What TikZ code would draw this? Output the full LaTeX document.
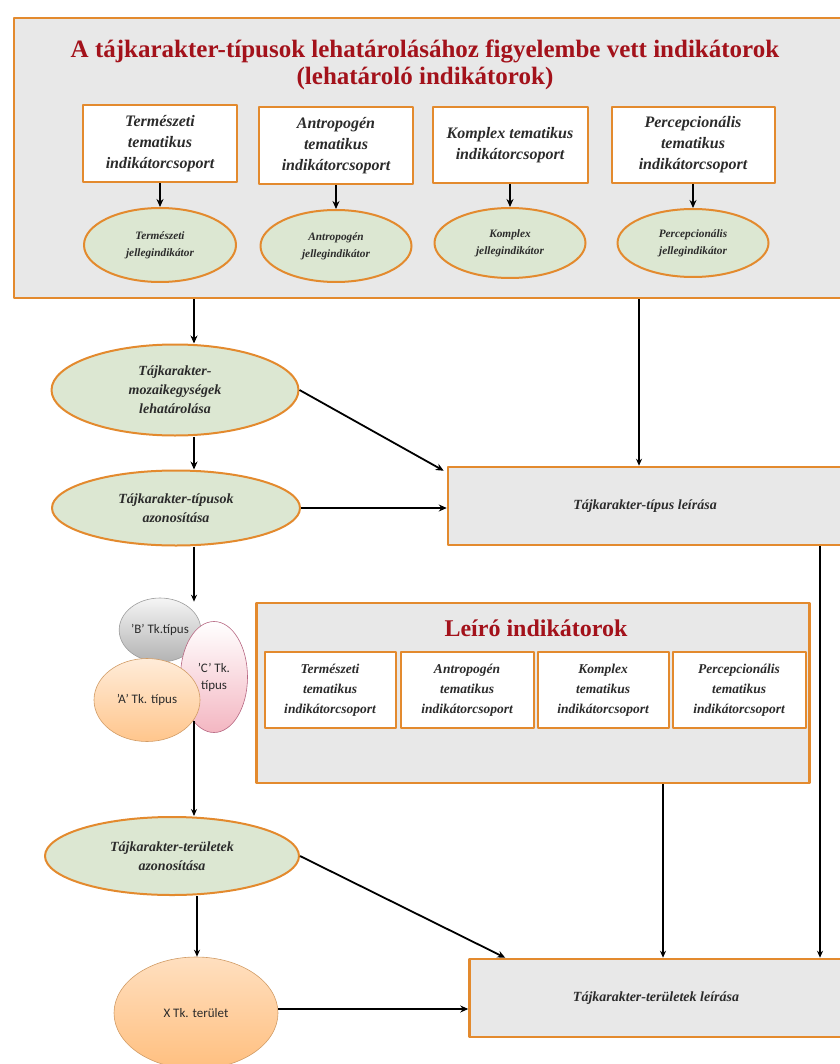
\documentclass[tikz,border=0pt]{standalone}
\usepackage{fontspec}
\setmainfont{Liberation Serif}
\newfontfamily\lblfont{Carlito}
\usetikzlibrary{shapes.geometric,arrows.meta}
\definecolor{borange}{HTML}{E38A2E}
\definecolor{panelgray}{HTML}{E8E8E8}
\definecolor{sage}{HTML}{DCE7D2}
\definecolor{titlered}{HTML}{A3121B}
\definecolor{inktext}{HTML}{2B2B2B}
\tikzset{
  panel/.style={draw=borange, line width=2.5pt, fill=panelgray, inner sep=0},
  groupbox/.style={draw=borange, line width=2pt, fill=white, align=center, inner sep=0, text=inktext},
  featell/.style={ellipse, draw=borange, line width=2pt, fill=sage, align=center, inner sep=0, text=inktext},
  typeell/.style={ellipse, draw=#1!70!black!60, line width=.6pt, inner sep=0, align=center},
  conn/.style={line width=1.8pt, -{Stealth[length=8pt,width=7pt]}},
  plainline/.style={line width=1.6pt, -{Stealth[length=7pt,width=6pt]}}
}
\begin{document}
\begin{tikzpicture}[x=1pt, y=-1pt, line join=round]
\useasboundingbox (0,0) rectangle (839,1064);
% lehatarolo indikatorok
\node[panel, minimum width=828, minimum height=280] (topbox) at (428,158) {};
\node[text=titlered, font=\fontsize{25}{27}\selectfont\bfseries, align=center] (title) at (425,65)
  {A tájkarakter-típusok lehatárolásához figyelembe vett indikátorok\\(lehatároló indikátorok)};
\begin{scope}[every node/.append style={font=\fontsize{16}{21}\selectfont\bfseries\itshape}]
\node[groupbox, minimum width=154, minimum height=77] (g1) at (160,144) {Természeti\\tematikus\\indikátorcsoport};
\node[groupbox, minimum width=154, minimum height=77] (g2) at (336,146) {Antropogén\\tematikus\\indikátorcsoport};
\node[groupbox, minimum width=155, minimum height=76] (g3) at (510,145) {Komplex tematikus\\indikátorcsoport};
\node[groupbox, minimum width=163, minimum height=76] (g4) at (693,145) {Percepcionális\\tematikus\\indikátorcsoport};
\end{scope}
\begin{scope}[every node/.append style={font=\fontsize{11.3}{17}\selectfont\bfseries\itshape}]
\node[featell, minimum width=152, minimum height=74] (f1) at (160,245) {Természeti\\jellegindikátor};
\node[featell, minimum width=151, minimum height=72] (f2) at (336,246) {Antropogén\\jellegindikátor};
\node[featell, minimum width=151, minimum height=70] (f3) at (510,243) {Komplex\\jellegindikátor};
\node[featell, minimum width=151, minimum height=68] (f4) at (693,243) {Percepcionális\\jellegindikátor};
\end{scope}
\foreach \i in {1,...,4} \draw[conn] (g\i.south) -- (f\i.north);

% bal oldali lanc
\begin{scope}[every node/.append style={font=\fontsize{14}{19}\selectfont\bfseries\itshape}]
\node[featell, minimum width=247, minimum height=91] (mosaic) at (175,390) {Tájkarakter-\\mozaikegységek\\lehatárolása};
\node[featell, minimum width=248, minimum height=75] (types) at (176,508) {Tájkarakter-típusok\\azonosítása};
\node[featell, minimum width=254, minimum height=78] (area) at (172,856) {Tájkarakter-területek\\azonosítása};
\node[panel, text=inktext, minimum width=394, minimum height=78] (tipdesc) at (645,506) {Tájkarakter-típus leírása};
\node[panel, text=inktext, minimum width=373, minimum height=78] (terdesc) at (656,998) {Tájkarakter-területek leírása};
\end{scope}

% tipusok
\begin{scope}[every node/.append style={font=\lblfont\fontsize{13}{17}\selectfont, text=inktext}]
\node[typeell=gray, top color=gray!8, bottom color=gray!60, minimum width=67, minimum height=64] (B) at (160,630) {’B’ Tk.típus};
\node[typeell=purple, top color=white, bottom color=purple!30!pink!60, minimum width=67, minimum height=111] (C) at (214,677) {’C’ Tk.\\típus};
\node[typeell=orange, top color=orange!15, bottom color=orange!45, minimum width=106, minimum height=83] (A) at (147,700) {’A’ Tk. típus};
\node[typeell=orange, top color=orange!25, bottom color=orange!50, minimum width=164, minimum height=112] (X) at (196,1013) {X Tk. terület};
\end{scope}

% leiro indikatorok
\node[panel, minimum width=553, minimum height=180] (leiro) at (533,693) {};
\node[text=titlered, font=\fontsize{24}{28}\selectfont\bfseries] (ltitle) at (536,628) {Leíró indikátorok};
\begin{scope}[every node/.append style={font=\fontsize{13.5}{20}\selectfont\bfseries\itshape}]
\node[groupbox, minimum width=131, minimum height=76] (l1) at (330,690) {Természeti\\tematikus\\indikátorcsoport};
\node[groupbox, minimum width=133, minimum height=76] (l2) at (467,690) {Antropogén\\tematikus\\indikátorcsoport};
\node[groupbox, minimum width=131, minimum height=76] (l3) at (603,690) {Komplex\\tematikus\\indikátorcsoport};
\node[groupbox, minimum width=133, minimum height=76] (l4) at (739,690) {Percepcionális\\tematikus\\indikátorcsoport};
\end{scope}

% kapcsolatok
\coordinate (xl) at (194,0);
\coordinate (xm) at (197,0);
\coordinate (xt) at (639,0);
\coordinate (xk) at (663,0);
\coordinate (xr) at (820,0);
\coordinate (cfoot) at (194,721);
\draw[conn] (topbox.south -| xl) -- (mosaic.north -| xl);
\draw[conn] (mosaic.south -| xl) -- (types.north -| xl);
\draw[conn] (mosaic.east) -- ([xshift=-3pt,yshift=-5pt]tipdesc.north west);
\draw[conn] (types.east) -- (types.east -| tipdesc.west);
\draw[plainline] (types.south -| xl) -- ([yshift=-4pt]B.north -| xl);
\draw[plainline] (cfoot) -- (area.north -| xl);
\draw[plainline] (area.south -| xm) -- (X.north -| xm);
\draw[conn] (area.east) -- ([xshift=37pt]terdesc.north west);
\draw[conn] ([yshift=4pt]X.east) -- ([yshift=4pt]X.east -| terdesc.west);
\draw[plainline] (topbox.south -| xt) -- (tipdesc.north -| xt);
\draw[plainline] (leiro.south -| xk) -- (terdesc.north -| xk);
\draw[plainline] (tipdesc.south -| xr) -- (terdesc.north -| xr);
\end{tikzpicture}
\end{document}
